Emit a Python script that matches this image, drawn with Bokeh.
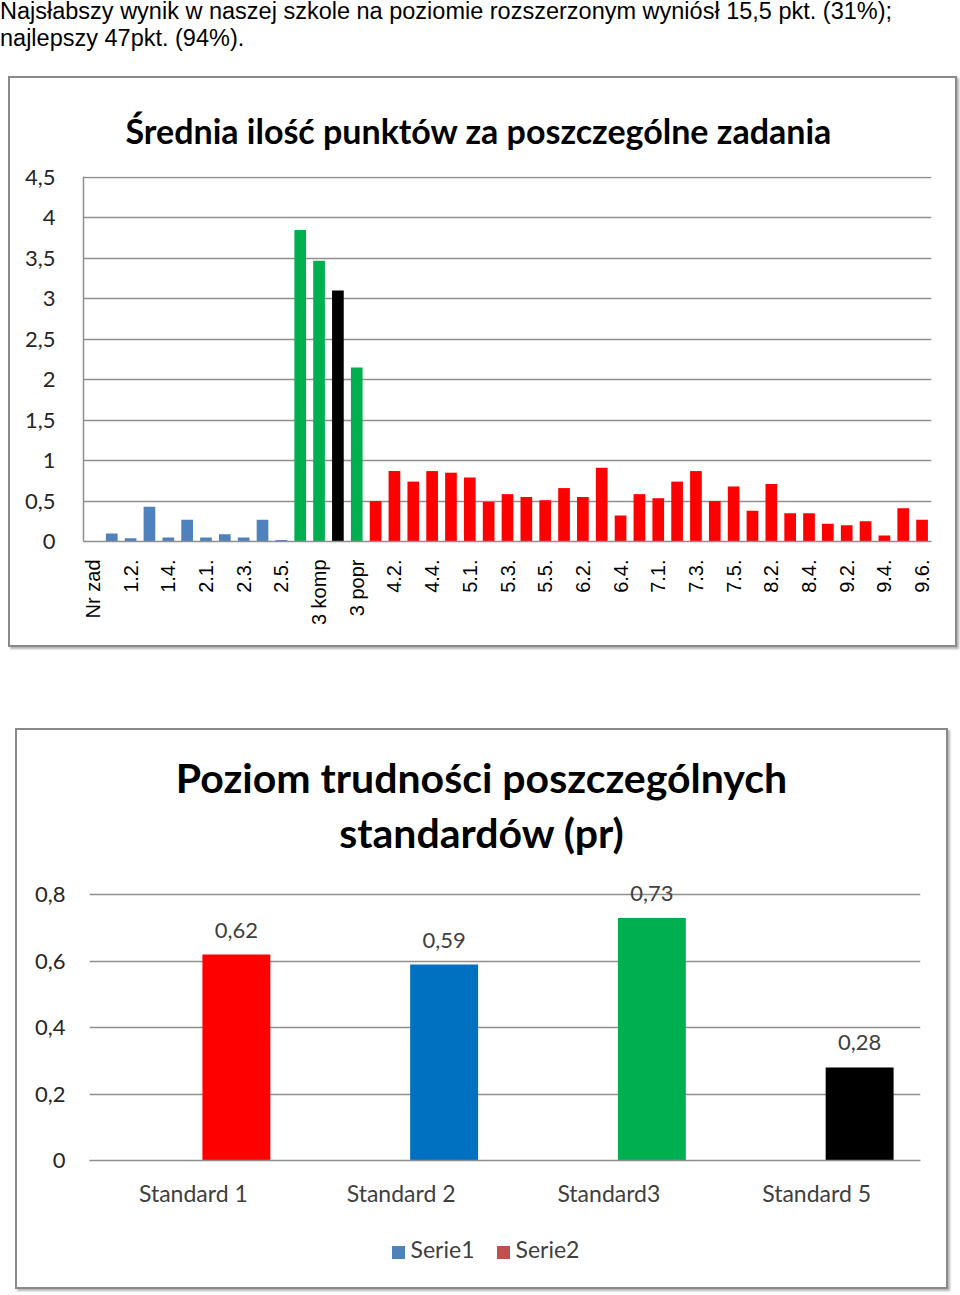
import math
from bokeh.plotting import figure
from bokeh.models import (FixedTicker, Range1d, ColumnDataSource, Div, Spacer, LabelSet)
from bokeh.layouts import column
from bokeh.embed import file_html
from bokeh.resources import INLINE
from bokeh.core.properties import value

# ---------------- data ----------------
intro_lines = [
    "Najsłabszy wynik w naszej szkole na poziomie rozszerzonym wyniósł 15,5 pkt. (31%);",
    "najlepszy 47pkt. (94%).",
]

chart1_title = "Średnia ilość punktów za poszczególne zadania"
task_labels = ["Nr zad", "1.1.", "1.2.", "1.3.", "1.4.", "1.5.", "2.1.", "2.2.", "2.3.", "2.4.", "2.5.",
               "3 inf", "3 komp", "3 rozw", "3 popr",
               "4.1.", "4.2.", "4.3.", "4.4.", "4.5.",
               "5.1.", "5.2.", "5.3.", "5.4.", "5.5.",
               "6.1.", "6.2.", "6.3.", "6.4.", "6.5.",
               "7.1.", "7.2.", "7.3.", "7.4.", "7.5.",
               "8.1.", "8.2.", "8.3.", "8.4.",
               "9.1.", "9.2.", "9.3.", "9.4.", "9.5.", "9.6."]
avg_points = [0, 0.10, 0.04, 0.43, 0.05, 0.27, 0.05, 0.09, 0.05, 0.27, 0.02,
              3.85, 3.47, 3.10, 2.15,
              0.50, 0.87, 0.74, 0.87, 0.85,
              0.79, 0.49, 0.585, 0.55, 0.51,
              0.66, 0.55, 0.91, 0.32, 0.585,
              0.535, 0.74, 0.87, 0.50, 0.68,
              0.38, 0.71, 0.35, 0.35,
              0.22, 0.20, 0.25, 0.075, 0.41, 0.27]
task_group = (["nr"] + ["cz1"] * 10 + ["cz3", "cz3", "cz3x", "cz3"] + ["cz4"] * 30)
y1_ticks = [0, 0.5, 1, 1.5, 2, 2.5, 3, 3.5, 4, 4.5]
y1_tick_labels = ["0", "0,5", "1", "1,5", "2", "2,5", "3", "3,5", "4", "4,5"]

chart2_title = ["Poziom trudności poszczególnych", "standardów (pr)"]
standards = ["Standard 1", "Standard 2", "Standard3", "Standard 5"]
series_names = ["Serie1", "Serie2"]
serie2 = [0.62, 0.59, 0.73, 0.28]
y2_ticks = [0, 0.2, 0.4, 0.6, 0.8]
y2_tick_labels = ["0", "0,2", "0,4", "0,6", "0,8"]

# ---------------- styles ----------------
group_colors = {"nr": "#4F81BD", "cz1": "#4F81BD", "cz3": "#00B050", "cz3x": "#000000", "cz4": "#FF0000"}
bar2_colors = ["#FF0000", "#0070C0", "#00B050", "#000000"]
series_colors = ["#4F81BD", "#C0504D"]
SERIE2_SHIFT = 0.207
GRID = "#8f8f8f"
FRAME_STYLE = {"border": "2px solid #8a8a8a", "box-shadow": "2px 2px 2px #b5b5b5", "box-sizing": "border-box"}
SANS = "Lato"

# ---------------- intro text ----------------
div = Div(text="<br>".join(intro_lines), width=960, height=78, margin=(0, 0, 0, 0),
          styles={"font-family": "'Liberation Sans', Arial, sans-serif", "font-size": "23.5px",
                  "line-height": "27px", "color": "#000", "white-space": "nowrap",
                  "margin-top": "-2px"})

# ---------------- chart 1 ----------------
src1 = ColumnDataSource(dict(x=list(range(len(task_labels))), top=avg_points,
                             color=[group_colors[g] for g in task_group]))
p1 = figure(width=949, height=571, output_backend="svg", toolbar_location=None,
            x_range=Range1d(-0.5, len(task_labels) - 0.5), y_range=Range1d(0, 4.51),
            min_border_left=73, min_border_right=28, min_border_top=98, min_border_bottom=108,
            margin=(0, 0, 0, 8), styles=FRAME_STYLE)
p1.title.text = chart1_title
p1.title.align = "left"
p1.title.offset = 42
p1.title.text_font = SANS
p1.title.text_font_size = "34px"
p1.title.text_font_style = "bold"
p1.title.text_color = "#000000"
p1.title.standoff = 52
p1.outline_line_color = None
p1.vbar(x="x", top="top", width=0.62, fill_color="color", line_color=None, source=src1)

p1.xgrid.grid_line_color = None
p1.ygrid.grid_line_color = GRID
p1.ygrid.grid_line_width = 1.5
p1.ygrid.ticker = FixedTicker(ticks=y1_ticks)
p1.yaxis.ticker = FixedTicker(ticks=y1_ticks)
p1.yaxis.major_label_overrides = {t: l for t, l in zip(y1_ticks, y1_tick_labels)}
p1.yaxis.axis_line_color = GRID
p1.yaxis.axis_line_width = 1.5
p1.yaxis.major_tick_line_color = None
p1.yaxis.minor_tick_line_color = None
p1.yaxis.major_label_standoff = 22
p1.yaxis.major_label_text_font = SANS
p1.yaxis.major_label_text_font_size = "22px"
p1.yaxis.major_label_text_color = "#262626"

even_idx = list(range(0, len(task_labels), 2))
p1.xaxis.ticker = FixedTicker(ticks=even_idx)
p1.xaxis.major_label_overrides = {i: task_labels[i] for i in even_idx}
p1.xaxis.major_label_orientation = math.pi / 2
p1.xaxis.axis_line_color = GRID
p1.xaxis.axis_line_width = 1.5
p1.xaxis.major_tick_line_color = None
p1.xaxis.minor_tick_line_color = None
p1.xaxis.major_label_standoff = 12
p1.xaxis.major_label_text_font = "Liberation Sans"
p1.xaxis.major_label_text_font_size = "20px"
p1.xaxis.major_label_text_color = "#000000"

# ---------------- chart 2 ----------------
title2 = Div(text="<br>".join(chart2_title), width=929, height=139, margin=(0, 0, 0, 0),
             styles={"font-family": "Lato, sans-serif", "font-weight": "bold", "font-size": "41px",
                     "line-height": "55px", "color": "#000", "text-align": "center",
                     "width": "929px", "padding-top": "20px", "box-sizing": "border-box",
                     "white-space": "nowrap"})

cat_idx = list(range(len(standards)))
src2 = ColumnDataSource(dict(x=[i + SERIE2_SHIFT for i in cat_idx], top=serie2, color=bar2_colors,
                             lab=[f"{v:.2f}".replace(".", ",") for v in serie2]))
# y range reaches a little above 0,8 so the value labels are not clipped at the frame edge
p2 = figure(width=929, height=346, output_backend="svg", toolbar_location=None,
            x_range=Range1d(-0.5, len(standards) - 0.5), y_range=Range1d(0, 0.87),
            min_border_left=72, min_border_right=26, min_border_top=2, min_border_bottom=55,
            margin=(0, 0, 0, 0))
p2.outline_line_color = None
p2.vbar(x="x", top="top", width=0.327, fill_color="color", line_color=None, source=src2)
p2.add_layout(LabelSet(x="x", y="top", text="lab", source=src2,
                       text_align="center", text_baseline="alphabetic", y_offset=17,
                       text_font=value(SANS), text_font_size="22px", text_color="#404040"))

p2.xgrid.grid_line_color = None
p2.ygrid.grid_line_color = GRID
p2.ygrid.grid_line_width = 1.5
p2.ygrid.ticker = FixedTicker(ticks=y2_ticks)
p2.yaxis.ticker = FixedTicker(ticks=y2_ticks)
p2.yaxis.major_label_overrides = {t: l for t, l in zip(y2_ticks, y2_tick_labels)}
p2.yaxis.axis_line_color = None
p2.yaxis.major_tick_line_color = None
p2.yaxis.minor_tick_line_color = None
p2.yaxis.major_label_standoff = 18
p2.yaxis.major_label_text_font = SANS
p2.yaxis.major_label_text_font_size = "22px"
p2.yaxis.major_label_text_color = "#262626"

p2.xaxis.ticker = FixedTicker(ticks=cat_idx)
p2.xaxis.major_label_overrides = {i: s for i, s in zip(cat_idx, standards)}
p2.xaxis.axis_line_color = GRID
p2.xaxis.axis_line_width = 1.5
p2.xaxis.major_tick_line_color = None
p2.xaxis.minor_tick_line_color = None
p2.xaxis.major_label_standoff = 12
p2.xaxis.major_label_text_font = SANS
p2.xaxis.major_label_text_font_size = "23px"
p2.xaxis.major_label_text_color = "#404040"

legend_html = "".join(
    f'<span style="display:inline-block;width:13px;height:13px;background:{c};'
    f'vertical-align:-1px;margin-right:6px;margin-left:{0 if k == 0 else 22}px"></span>{n}'
    for k, (n, c) in enumerate(zip(series_names, series_colors)))
legend2 = Div(text=legend_html, width=929, height=72, margin=(0, 0, 0, 0),
              styles={"font-family": "Lato, sans-serif", "font-size": "23px", "color": "#404040",
                      "text-align": "center", "width": "929px", "padding-top": "20px",
                      "padding-left": "8px", "box-sizing": "border-box", "line-height": "28px"})

box2 = column(title2, p2, legend2, spacing=0, width=933, height=561,
              margin=(0, 0, 0, 15), styles=FRAME_STYLE)

layout = column(div, p1, Spacer(width=10, height=81), box2, spacing=0)
open("out.html", "w").write(file_html(layout, INLINE))
